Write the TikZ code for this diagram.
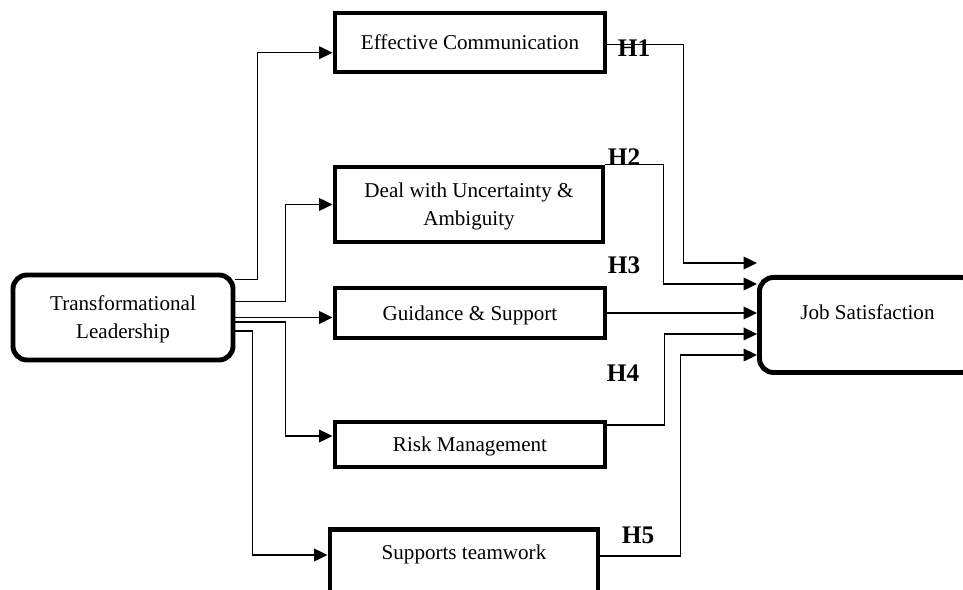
\documentclass[tikz,border=0pt]{standalone}
\usepackage{fontspec}
\setmainfont{Liberation Serif}
\usetikzlibrary{arrows.meta,calc,positioning}
\tikzset{
	factor/.style={draw,line width=3.5pt,fill=white,inner sep=2pt,text depth=0pt,font=\fontsize{15}{20}\selectfont,align=center},
	outcome/.style={factor,rounded corners=0.35cm},
	link/.style={-{Triangle[length=9.5pt,width=9pt]},color=black,line width=1pt},
	hyp/.style={font=\fontsize{18}{20}\selectfont\bfseries,inner sep=0pt}
}

\begin{document}
\begin{tikzpicture}[x=0.025cm,y=-0.025cm]
	\useasboundingbox (0,0) rectangle (963,590);
	\clip (0,0) rectangle (963,590);
	
	%%%% leader and outcome
	\node[outcome,minimum width=5.5cm,minimum height=2.125cm] (tl) at (123,317.5) {Transformational\\Leadership};
	\node[outcome,anchor=north west,minimum width=5.4cm,inner ysep=0.1cm,text height=0.95cm,text depth=1.225cm] (js) at (757,275) {Job Satisfaction};
	
	%%%% mediators
	\node[factor,minimum width=6.75cm,minimum height=1.475cm] (ec) at (470,42.5) {Effective Communication};
	\node[factor,minimum width=6.7cm,minimum height=1.875cm] (du) at (469,204.5) {Deal with Uncertainty \&\\Ambiguity};
	\node[factor,minimum width=6.75cm,minimum height=1.25cm] (gs) at (470,313) {Guidance \& Support};
	\node[factor,minimum width=6.75cm,minimum height=1.125cm] (rm) at (470,444.5) {Risk Management};
	\node[factor,anchor=north,minimum width=6.7cm,inner ysep=0.1cm,text height=0.65cm,text depth=2cm] (st) at (464,527) {Supports teamwork};
	
	%%%% leader -> mediators
	\draw[link] ($(tl.north east)!.08!(tl.south east)$) -- ++(22,0) |- ($(ec.north west)!.66!(ec.south west)$);
	\draw[link] ($(tl.north east)!.32!(tl.south east)$) -- ++(50,0) |- (du.west);
	\draw[link] (tl.east) -- (tl.east -| gs.west);
	\draw[link] ($(tl.north east)!.55!(tl.south east)$) -- ++(50,0) |- ($(rm.north west)!.33!(rm.south west)$);
	\draw[link] ($(tl.north east)!.65!(tl.south east)$) -- ++(17,0) |- ([yshift=-0.7cm]st.north west);
	
	%%%% mediators -> outcome
	\draw[link] ($(ec.north east)!.53!(ec.south east)$) -- ++(76,0) |- ([yshift=0.3cm]js.north west);
	\draw[link] (du.north east) -- ++(58,0) |- ([yshift=-0.225cm]js.north west);
	\draw[link] (gs.east) -- (gs.east -| js.west);
	\draw[link] ($(rm.north east)!.11!(rm.south east)$) -- ++(57,0) |- ($(js.north west)!.59!(js.south west)$);
	\draw[link] ([yshift=-0.725cm]st.north east) -- ++(80,0) |- ([yshift=-2cm]js.north west);
	
	%%%% hypotheses
	\node[hyp] (h1) at (634,48) {H1};
	\node[hyp] (h2) at (624,157) {H2};
	\node[hyp] (h3) at (624,265) {H3};
	\node[hyp] (h4) at (623,373) {H4};
	\node[hyp] (h5) at (638,535) {H5};
\end{tikzpicture}
\end{document}
